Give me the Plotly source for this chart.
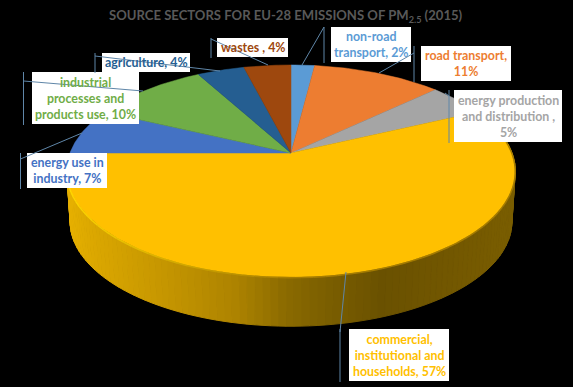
import numpy as np
import plotly.graph_objects as go

# ---- data (clockwise from 12 o'clock) ----
categories = ["non-road<br>transport, 2%", "road transport,<br>11%",
              "energy production<br>and distribution ,<br>5%",
              "commercial,<br>institutional and<br>households, 57%",
              "energy use in<br>industry, 7%",
              "industrial<br>processes and<br>products use, 10%",
              "agriculture, 4%", "wastes , 4%"]
values = [2, 11, 5, 57, 7, 10, 4, 4]
colors = ["#5B9BD5", "#ED7D31", "#A5A5A5", "#FFC000", "#4472C4", "#70AD47", "#255E91", "#9E480E"]

# ---- layout of callouts: box x0,y0,x1,y1, callout bar x, leader start y, leader end x,y ----
boxes = [(331, 27, 411, 62, 324, 27, 302, 65),
         (421, 46, 511, 81, 414, 53, 379, 73),
         (454, 90, 562, 142, 449, 96, 445, 93),
         (349, 329, 449, 381, 340, 332, 346, 272),
         (27, 153, 107, 188, 20.5, 159, 82, 133),
         (32, 72, 139, 124, 23.5, 81, 143, 91),
         (102, 53, 190, 72, 95, 56, 220, 71),
         (217, 38, 288, 57, 211, 39, 268, 65)]
LEADER = "#5f86a8"

# ---- perspective disc model ----
CX, CY, R, A, K = 291, 153, 221, 103, 0.17
DROP, SHRINK = 51, 0.985


def rim(theta_deg, bottom=False):
    t = np.radians(theta_deg)
    u, v = np.sin(t), np.cos(t)
    w = 1 + K * v
    s = SHRINK if bottom else 1
    return CX + s * R * u / w, CY + (DROP if bottom else 0) - s * A * v / w


wall_x = [70, 83, 167, 233, 287, 320, 383, 480, 515]
wall_r = [230, 222, 196, 174, 138, 125, 106, 118, 122]
wall_g = [176, 170, 149, 132, 106, 96, 81, 90, 94]

fig = go.Figure()
edges = np.cumsum([0] + values) * 3.6
front_start, front_end = edges[3], edges[4]

# side wall of the largest slice
steps = np.linspace(front_start, front_end, 121)
for a, b in zip(steps[:-1], steps[1:]):
    x0, y0 = rim(a)
    x1, y1 = rim(b)
    x2, y2 = rim(b, True)
    x3, y3 = rim(a, True)
    mx = (x0 + x1) / 2
    col = f"rgb({np.interp(mx, wall_x, wall_r):.0f},{np.interp(mx, wall_x, wall_g):.0f},0)"
    fig.add_trace(go.Scatter(x=[x0, x1, x2, x3, x0], y=[y0, y1, y2, y3, y0], mode="lines",
                             fill="toself", fillcolor=col, line=dict(color=col, width=1),
                             hoverinfo="skip", showlegend=False))

# top faces
for i, (name, col) in enumerate(zip(categories, colors)):
    th = np.linspace(edges[i], edges[i + 1], max(int(values[i] * 4), 8))
    xs, ys = rim(th)
    fig.add_trace(go.Scatter(x=np.r_[CX, xs, CX], y=np.r_[CY, ys, CY], mode="lines",
                             fill="toself", fillcolor=col, line=dict(color=col, width=0.5),
                             name=name.replace("<br>", " "), hoverinfo="name", showlegend=False))

# bevel on the front rim
steps = np.linspace(front_start, front_end, 81)
for a, b in zip(steps[:-1], steps[1:]):
    xs, ys = rim(np.array([a, b]))
    mx = xs.mean()
    f = np.clip((mx - 70) / 220, 0, 1)
    col = f"rgb({255 - 90 * f:.0f},{214 - 90 * f:.0f},0)"
    fig.add_trace(go.Scatter(x=xs, y=ys + 0.6, mode="lines", line=dict(color=col, width=1.5),
                             hoverinfo="skip", showlegend=False))

shapes, notes = [], []
for name, col, (x0, y0, x1, y1, bar, ly, ex, ey) in zip(categories, colors, boxes):
    shapes.append(dict(type="rect", x0=x0, x1=x1, y0=y0, y1=y1, fillcolor="white",
                       line=dict(width=0), layer="above"))
    shapes.append(dict(type="line", x0=bar, x1=bar, y0=y0, y1=y1 + 1,
                       line=dict(color=LEADER, width=1), layer="above"))
    shapes.append(dict(type="line", x0=bar, x1=ex, y0=ly, y1=ey,
                       line=dict(color=LEADER, width=1), layer="above"))
    notes.append(dict(x=(x0 + x1) / 2, y=(y0 + y1) / 2, xref="x", yref="y", text=f"<b>{name}</b>",
                      showarrow=False, align="center", xanchor="center", yanchor="middle",
                      font=dict(family="Lato", size=12.4, color=col)))

notes.append(dict(x=286, y=16, xref="x", yref="y", showarrow=False, xanchor="center", yanchor="middle",
                  text="<b>SOURCE SECTORS FOR EU-28 EMISSIONS OF PM<sub>2.5</sub> (2015)</b>",
                  font=dict(family="Lato", size=13.1, color="#595959")))

fig.update_layout(width=573, height=387, margin=dict(l=0, r=0, t=0, b=0),
                  paper_bgcolor="black", plot_bgcolor="black", showlegend=False,
                  shapes=shapes, annotations=notes,
                  xaxis=dict(range=[0, 573], visible=False, fixedrange=True),
                  yaxis=dict(range=[387, 0], visible=False, fixedrange=True))
fig.write_html("out.html", config=dict(displayModeBar=False), include_plotlyjs=True,
               post_script="document.body.style.margin='0';document.documentElement.style.background='black';document.documentElement.style.overflow='hidden';")
